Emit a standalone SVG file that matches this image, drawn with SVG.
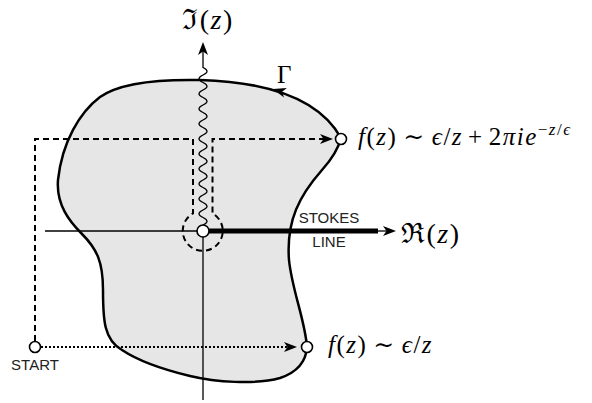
<svg xmlns="http://www.w3.org/2000/svg" width="592" height="403" viewBox="0 0 592 403">
<style>
.math{font-family:"Liberation Serif","DejaVu Serif",serif;font-size:25px;fill:#000;letter-spacing:1.5px}
.big{font-size:28px}
.it{font-style:italic}
.sans{font-family:"Liberation Sans",Arial,sans-serif;font-size:15px;fill:#222}
.node{fill:#fff;stroke:#000;stroke-width:1.6}
.axis{stroke:#000;stroke-width:1.3;fill:none}
.dash{stroke:#000;stroke-width:2;fill:none;stroke-dasharray:6 4}
.dot{stroke:#000;stroke-width:2;fill:none;stroke-dasharray:2 2}
</style>
<defs>
<marker id="ah" markerUnits="userSpaceOnUse" markerWidth="20" markerHeight="20" refX="0" refY="0" orient="auto" overflow="visible">
<path d="M3,0 L-10,-5 L-6.5,0 L-10,5 Z" fill="#000" stroke="none"/>
</marker>
<path id="head" d="M0,0 L-13,-5 L-9.5,0 L-13,5 Z" fill="#000"/>
</defs>

<g id="region">
<path d="M341,138 C320,100 270,82 200,80 C150,79 118,84 100,97 C80,112 62,142 58,180 C56,205 70,222 82,234 C97,249 103,262 103,290 C103,320 104,340 122,350 C140,362 165,370 190,376 C215,382 255,385 280,378 C298,372 306,362 307,347 C305,320 292,290 289,260 C286,220 300,195 322,170 C331,160 338,150 341,138 Z" fill="#e6e6e6" stroke="#000" stroke-width="2.5"/>
<use href="#head" transform="translate(273,89) rotate(197)"/>
</g>

<g id="axes">
<line class="axis" x1="45" y1="231" x2="200" y2="231"/>
<line class="axis" x1="203" y1="234" x2="203" y2="400"/>
<line x1="206" y1="231" x2="378" y2="231" stroke="#000" stroke-width="5"/>
<line class="axis" x1="376" y1="231" x2="393" y2="231" marker-end="url(#ah)"/>
<line class="axis" x1="203" y1="68" x2="203" y2="45" marker-end="url(#ah)"/>
</g>

<g id="branch-cut">
<path class="axis" d="M203,225 q8,-3.75 0,-7.5 t0,-7.5 t0,-7.5 t0,-7.5 t0,-7.5 t0,-7.5 t0,-7.5 t0,-7.5 t0,-7.5 t0,-7.5 t0,-7.5 t0,-7.5 t0,-7.5 t0,-7.5 t0,-7.5 t0,-7.5 t0,-7.5 t0,-7.5 t0,-7.5 t0,-7.5 t0,-7.5" stroke-width="1.5"/>
</g>

<g id="connectors">
<path class="dash" d="M35,341 V139 H193 V213.4 A20,20 0 1 0 212.5,213.4 V139 H330" marker-end="url(#ah)"/>
<path class="dot" d="M41,347 H294" marker-end="url(#ah)"/>
</g>

<g id="start"><circle class="node" cx="35" cy="347" r="5.5"/><text class="sans" x="35" y="370" text-anchor="middle" font-size="14">START</text></g>
<g id="origin"><circle class="node" cx="203" cy="231" r="6"/></g>
<g id="point-upper"><circle class="node" cx="341" cy="139" r="5.5"/></g>
<g id="point-lower"><circle class="node" cx="307" cy="347" r="5.5"/></g>

<g id="labels">
<text class="math big" x="208" y="29" text-anchor="middle">ℑ(<tspan class="it">z</tspan>)</text>
<text class="math" x="285" y="83" text-anchor="middle" font-size="26">Γ</text>
<text class="math big" x="401" y="243">ℜ(<tspan class="it">z</tspan>)</text>
<text class="sans" x="329" y="223" text-anchor="middle">STOKES</text>
<text class="sans" x="329" y="247" text-anchor="middle">LINE</text>
<text class="math" x="358" y="145"><tspan class="it">f</tspan>(<tspan class="it">z</tspan>)<tspan dx="6">∼</tspan><tspan class="it" dx="6">ϵ</tspan>/<tspan class="it">z</tspan><tspan dx="5">+</tspan><tspan dx="5">2</tspan><tspan class="it">πie</tspan><tspan dy="-10" font-size="17">−<tspan class="it">z</tspan>/<tspan class="it">ϵ</tspan></tspan></text>
<text class="math" x="328" y="353"><tspan class="it">f</tspan>(<tspan class="it">z</tspan>)<tspan dx="6">∼</tspan><tspan class="it" dx="6">ϵ</tspan>/<tspan class="it">z</tspan></text>
</g>
</svg>
